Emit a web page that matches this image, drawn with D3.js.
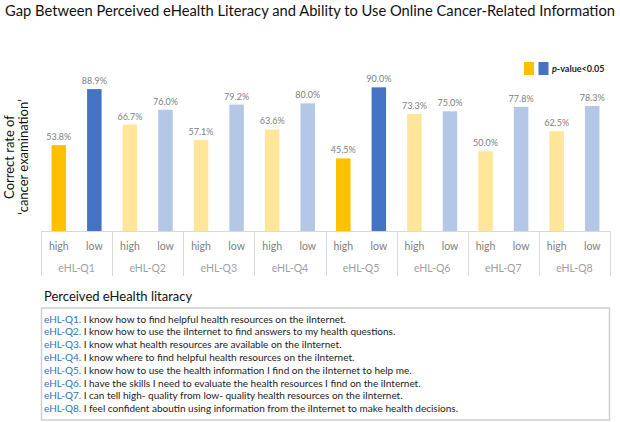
<!DOCTYPE html>
<html><head><meta charset="utf-8">
<script src="https://cdn.jsdelivr.net/npm/d3@7"></script>
<style>
html,body{margin:0;padding:0;background:#fff;}
svg{display:block;font-family:Lato,"Open Sans",sans-serif;}
</style></head>
<body><svg id="chart" width="620" height="422"></svg>
<script>
const categories = ["eHL-Q1","eHL-Q2","eHL-Q3","eHL-Q4","eHL-Q5","eHL-Q6","eHL-Q7","eHL-Q8"];
const groups = ["high","low"];
const highValues = [53.8,66.7,57.1,63.6,45.5,73.3,50.0,62.5];
const lowValues = [88.9,76.0,79.2,80.0,90.0,75.0,77.8,78.3];
const significant = [true,false,false,false,true,false,false,false];
const statements = [
 "I know how to find helpful health resources on the iInternet.",
 "I know how to use the iInternet to find answers to my health questions.",
 "I know what health resources are available on the iInternet.",
 "I know where to find helpful health resources on the iInternet.",
 "I know how to use the health information I find on the iInternet to help me.",
 "I have the skills I need to evaluate the health resources I find on the iInternet.",
 "I can tell high- quality from low- quality health resources on the iInternet.",
 "I feel confident aboutin using information from the iInternet to make health decisions."
];
const yTicks = [0,100];

const colors = {high:{sig:"#FFC000",ns:"#FFE699"}, low:{sig:"#4472C4",ns:"#B4C7E7"}};

const svg = d3.select("#chart");

const data = [];
categories.forEach((c,i)=>{
  data.push({cat:c, grp:"high", v:highValues[i], sig:significant[i]});
  data.push({cat:c, grp:"low", v:lowValues[i], sig:significant[i]});
});

const x0 = d3.scaleBand().domain(categories).range([41,610]);
const x1 = d3.scalePoint().domain(groups).range([0,x0.bandwidth()]).padding(0.5);
const y = d3.scaleLinear().domain(yTicks).range([231,71.4]);
const barW = 14.5;

// title
svg.append("text").attr("x",310).attr("y",16).attr("text-anchor","middle")
  .attr("font-size",14.6).attr("fill","#111")
  .attr("textLength",610).attr("lengthAdjust","spacingAndGlyphs")
  .text("Gap Between Perceived eHealth Literacy and Ability to Use Online Cancer-Related Information");

// bars
svg.append("g").selectAll("rect").data(data).join("rect")
  .attr("x",d=>x0(d.cat)+x1(d.grp)-barW/2)
  .attr("y",d=>y(d.v))
  .attr("width",barW)
  .attr("height",d=>y(0)-y(d.v))
  .attr("fill",d=>colors[d.grp][d.sig?"sig":"ns"]);

// value labels
svg.append("g").selectAll("text").data(data).join("text")
  .attr("x",d=>x0(d.cat)+x1(d.grp))
  .attr("y",d=>y(d.v)-5)
  .attr("text-anchor","middle")
  .attr("font-size",9).attr("fill","#7f7f7f")
  .text(d=>d.v.toFixed(1)+"%");

// axis line & separators
const axisG = svg.append("g").attr("stroke","#d9d9d9").attr("stroke-width",1);
axisG.append("line").attr("x1",x0.range()[0]).attr("x2",x0.range()[1]).attr("y1",y(0)+0.5).attr("y2",y(0)+0.5);
const seps = categories.map(c=>x0(c)).concat([x0.range()[1]]);
axisG.selectAll("line.sep").data(seps).join("line").attr("class","sep")
  .attr("x1",d=>Math.round(d)+0.5).attr("x2",d=>Math.round(d)+0.5)
  .attr("y1",y(0)).attr("y2",276);

// group labels
svg.append("g").selectAll("text").data(data).join("text")
  .attr("x",d=>x0(d.cat)+x1(d.grp))
  .attr("y",250)
  .attr("text-anchor","middle").attr("font-size",10.5).attr("fill","#808080")
  .text(d=>d.grp);
svg.append("g").selectAll("text").data(categories).join("text")
  .attr("x",d=>x0(d)+x0.bandwidth()/2)
  .attr("y",272)
  .attr("text-anchor","middle").attr("font-size",10.5).attr("fill","#a0a0a0")
  .text(d=>d);

// y-axis title
const yt = svg.append("text").attr("transform","translate(14,157) rotate(-90)")
  .attr("text-anchor","middle").attr("font-size",13).attr("fill","#111");
yt.append("tspan").attr("x",0).attr("dy",0).text("Correct rate of");
yt.append("tspan").attr("x",0).attr("dy",13.5).text("‘cancer examination’");

// legend
svg.append("rect").attr("x",524).attr("y",62).attr("width",10).attr("height",13).attr("fill",colors.high.sig);
svg.append("rect").attr("x",538.5).attr("y",62).attr("width",10).attr("height",13).attr("fill",colors.low.sig);
const lt = svg.append("text").attr("x",552).attr("y",72).attr("font-size",9).attr("fill","#222").attr("font-weight","bold");
lt.append("tspan").attr("font-style","italic").text("p");
lt.append("tspan").text("-value<0.05");

// bottom section
svg.append("text").attr("x",44).attr("y",301).attr("font-size",13).attr("fill","#111")
  .text("Perceived eHealth litaracy");
svg.append("rect").attr("x",41.5).attr("y",308).attr("width",568).attr("height",112)
  .attr("fill","#fff").attr("stroke","#d0d0d0").attr("stroke-width",1.5);

const lines = svg.append("g").selectAll("text").data(categories).join("text")
  .attr("x",44).attr("y",(d,i)=>322.5+i*12.8).attr("font-size",10).attr("fill","#222");
lines.append("tspan").attr("fill","#2E75B6").text(d=>d+". ");
lines.append("tspan").text((d,i)=>statements[i]);
</script></body></html>
